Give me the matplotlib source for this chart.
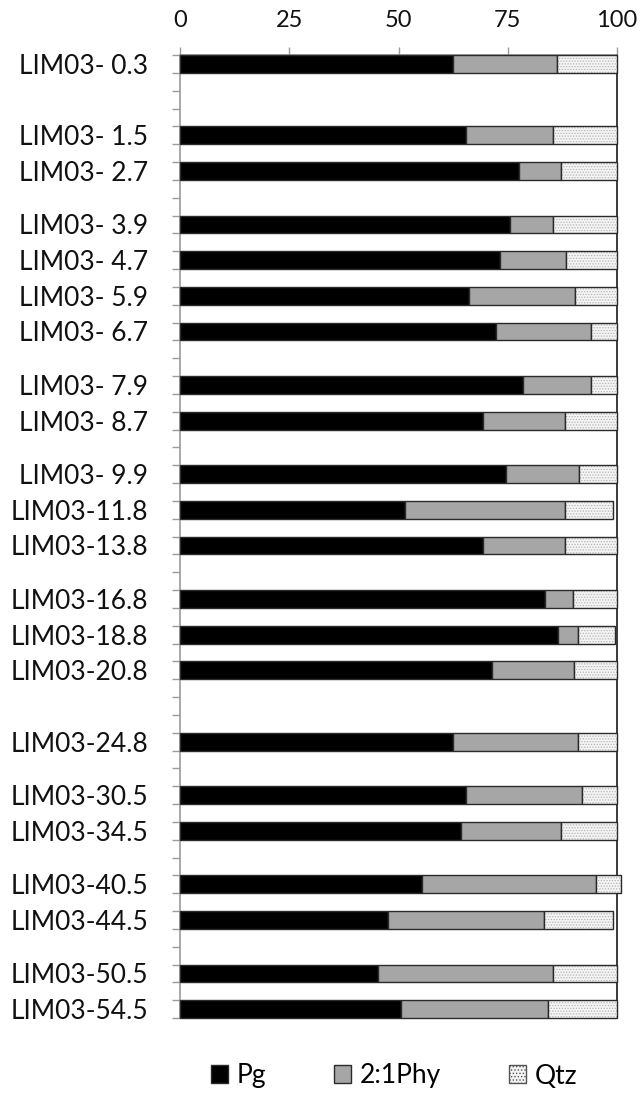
import numpy as np
import matplotlib
matplotlib.use("Agg")
import matplotlib.pyplot as plt
from matplotlib.patches import Patch

# ---- data -------------------------------------------------------------
# category axis as in the original sheet (blank rows included)
B = ""
categories = ["LIM03- 0.3", B, B, B, "LIM03- 1.5", B, "LIM03- 2.7", B, B,
              "LIM03- 3.9", B, "LIM03- 4.7", B, "LIM03- 5.9", B, "LIM03- 6.7",
              B, B, "LIM03- 7.9", B, "LIM03- 8.7", B, B, "LIM03- 9.9", B,
              "LIM03-11.8", B, "LIM03-13.8", B, B, "LIM03-16.8", B,
              "LIM03-18.8", B, "LIM03-20.8", B, B, B, "LIM03-24.8", B, B,
              "LIM03-30.5", B, "LIM03-34.5", B, B, "LIM03-40.5", B,
              "LIM03-44.5", B, B, "LIM03-50.5", B, "LIM03-54.5"]

pg = [62.4, 65.4, 77.6, 75.5, 73.2, 66.2, 72.2, 78.5, 69.3, 74.6, 51.5,
      69.3, 83.5, 86.4, 71.3, 62.4, 65.4, 64.3, 55.4, 47.5, 45.4, 50.5]
phy = [23.9, 19.9, 9.6, 9.8, 15.1, 24.1, 21.8, 15.5, 18.8, 16.6, 36.6,
       18.8, 6.5, 4.7, 18.9, 28.7, 26.7, 22.9, 39.7, 35.8, 39.9, 33.7]
qtz = [13.7, 14.7, 12.8, 14.7, 11.7, 9.7, 6.0, 6.0, 11.9, 8.8, 11.0,
       11.9, 10.0, 8.5, 9.8, 8.9, 7.9, 12.8, 5.9, 15.8, 14.7, 15.8]
series_names = ["Pg", "2:1Phy", "Qtz"]
xticks = [0, 25, 50, 75, 100]

# ---- style ------------------------------------------------------------
FONT = ["Lato", "DejaVu Sans"]
plt.rcParams["font.family"] = FONT
plt.rcParams["hatch.linewidth"] = 0.6

C_PG = "#000000"
C_PHY = "#a6a6a6"
C_QTZ = "#f4f4f4"
EDGE = "#2a2a2a"
AXIS = "#9a9a9a"

fig = plt.figure(figsize=(6.42, 10.93), dpi=100)
ax = fig.add_axes([180 / 642, 1 - 1018 / 1093, 437 / 642, 963 / 1093])

ncat = len(categories)
pos = np.array([i for i, c in enumerate(categories) if c != ""])
labels = [c for c in categories if c != ""]
pg = np.array(pg); phy = np.array(phy); qtz = np.array(qtz)

ax.barh(pos, pg, height=1.0, color=C_PG, edgecolor=EDGE, linewidth=1.0,
        zorder=3, clip_on=False)
ax.barh(pos, phy, left=pg, height=1.0, color=C_PHY, edgecolor=EDGE,
        linewidth=1.0, zorder=3, clip_on=False)
ax.barh(pos, qtz, left=pg + phy, height=1.0, color=C_QTZ, edgecolor="#b5b5b5",
        linewidth=0, hatch="......", zorder=3, clip_on=False)
ax.barh(pos, qtz, left=pg + phy, height=1.0, color="none", edgecolor=EDGE,
        linewidth=1.0, zorder=4, clip_on=False)

ax.set_xlim(0, 100)
ax.set_ylim(ncat - 0.5, -0.5)

# x axis on top
ax.xaxis.set_ticks_position("top")
ax.xaxis.set_label_position("top")
ax.set_xticks(xticks)
ax.set_xticklabels([str(v) for v in xticks])
ax.tick_params(axis="x", which="major", direction="out", length=6, width=1,
               color=AXIS, labelsize=17, pad=11, labelcolor="#111111")

# y axis: ticks at category boundaries, labels at bar centers
ax.set_yticks(np.arange(-0.5, ncat, 1.0))
ax.set_yticklabels([])
ax.set_yticks(pos, minor=True)
ax.set_yticklabels(labels, minor=True)
ax.tick_params(axis="y", which="major", direction="out", length=6, width=1,
               color=AXIS)
ax.tick_params(axis="y", which="minor", length=0, labelsize=19, pad=23,
               labelcolor="#111111")

for s in ["bottom"]:
    ax.spines[s].set_visible(False)
ax.spines["top"].set_color(AXIS)
ax.spines["left"].set_color(AXIS)
ax.spines["top"].set_linewidth(1.2)
ax.spines["left"].set_linewidth(1.2)
ax.spines["right"].set_color("#3a3a3a")
ax.spines["right"].set_linewidth(1.4)
ax.spines["right"].set_zorder(2)

handles = [
    Patch(facecolor=C_PG, edgecolor=EDGE, linewidth=1.0),
    Patch(facecolor=C_PHY, edgecolor=EDGE, linewidth=1.0),
    Patch(facecolor=C_QTZ, edgecolor="#555555", linewidth=1.0, hatch="....."),
]
fig.legend(handles, series_names, loc="center", ncol=3,
           bbox_to_anchor=(394 / 642, 1 - 1076 / 1093), frameon=False,
           fontsize=19, handlelength=0.65, handleheight=0.65,
           handletextpad=0.3, columnspacing=2.6)

fig.savefig("out.png", dpi=100)
